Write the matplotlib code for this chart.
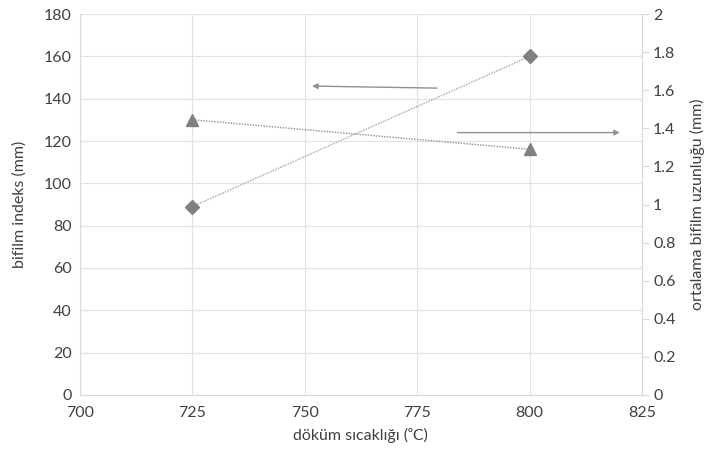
import matplotlib
matplotlib.use("Agg")
import matplotlib.pyplot as plt

temps = [725, 800]
bifilm_index = [89, 160]
avg_length = [1.445, 1.29]

x_ticks = [700, 725, 750, 775, 800, 825]
left_ticks = [0, 20, 40, 60, 80, 100, 120, 140, 160, 180]
right_ticks = [0, 0.2, 0.4, 0.6, 0.8, 1, 1.2, 1.4, 1.6, 1.8, 2]
right_labels = ["0", "0.2", "0.4", "0.6", "0.8", "1", "1.2", "1.4", "1.6", "1.8", "2"]

plt.rcParams['font.family'] = ['Lato', 'DejaVu Sans']
txt = '#404040'
grid_c = '#e3e3e3'
mk = '#808080'

fig = plt.figure(figsize=(7.07, 4.55), dpi=100)
ax = fig.add_axes([0.113, 0.132, 0.795, 0.837])
ax2 = ax.twinx()

ax.set_xlim(700, 825)
ax.set_ylim(0, 180)
ax2.set_ylim(0, 2)
ax.set_xticks(x_ticks)
ax.set_yticks(left_ticks)
ax2.set_yticks(right_ticks)
ax2.set_yticklabels(right_labels)

ax.grid(True, color=grid_c, linewidth=0.9)
ax.set_axisbelow(True)
for s in ['top', 'right']:
    ax.spines[s].set_visible(False)
for s in ['top', 'left', 'bottom']:
    ax2.spines[s].set_visible(False)
ax.spines['left'].set_color('#d9d9d9')
ax.spines['bottom'].set_color('#d9d9d9')
ax2.spines['right'].set_color('#d9d9d9')

ax.tick_params(axis='both', length=0, labelsize=11.5, labelcolor=txt, pad=6)
ax.tick_params(axis='x', pad=8)
ax2.tick_params(axis='y', length=5, color='#d9d9d9', labelsize=11.5, labelcolor=txt, pad=3)

ax.plot(temps, bifilm_index, linestyle=(0, (1, 0.8)), color='#b0b0b0', linewidth=1.1,
        marker='D', markersize=7, markerfacecolor=mk, markeredgecolor=mk, zorder=3)
ax2.plot(temps, avg_length, linestyle=(0, (1, 0.8)), color='#a0a0a0', linewidth=1.1,
         marker='^', markersize=9, markerfacecolor=mk, markeredgecolor=mk, zorder=3)

ax.annotate('', xy=(751, 146), xytext=(780, 145),
            arrowprops=dict(arrowstyle='-|>', color='#909090', lw=1.0, mutation_scale=8))
ax.annotate('', xy=(820.7, 124), xytext=(783.3, 124),
            arrowprops=dict(arrowstyle='-|>', color='#909090', lw=1.0, mutation_scale=8))

ax.set_xlabel('döküm sıcaklığı (ᵒC)', fontsize=11.5, color=txt, labelpad=6)
ax.set_ylabel('bifilm indeks (mm)', fontsize=11.5, color=txt, labelpad=12)
ax2.set_ylabel('ortalama bifilm uzunluğu (mm)', fontsize=11.5, color=txt, labelpad=10)

fig.savefig('out.png', dpi=100)
